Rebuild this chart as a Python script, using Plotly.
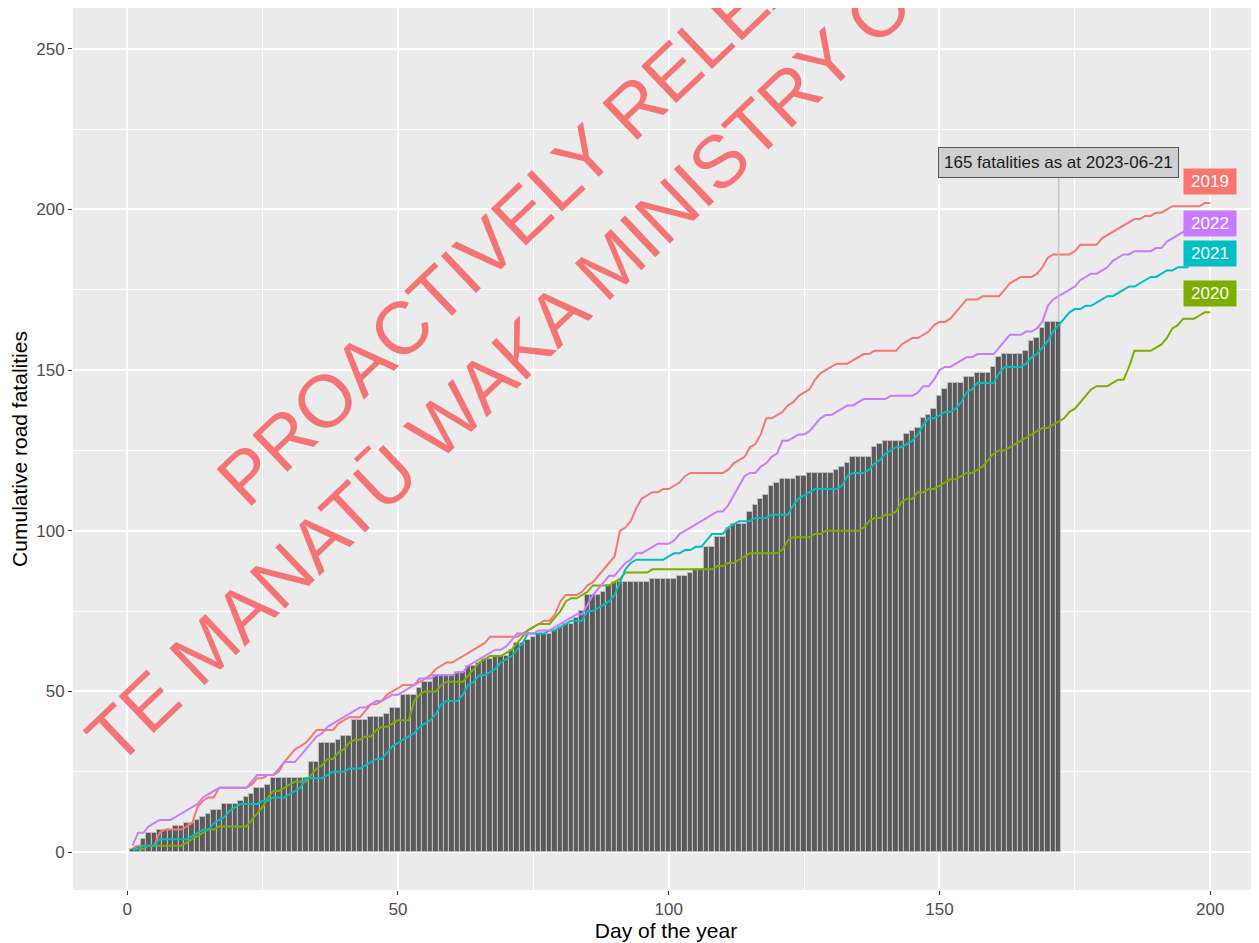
import plotly.graph_objects as go

# ---------------- data ----------------
fatal_2023 = [
    1, 2, 4, 6, 6, 7, 7, 7, 8, 8,
    9, 9, 10, 11, 12, 13, 13, 15, 15, 15,
    16, 17, 18, 20, 20, 21, 23, 23, 23, 23,
    23, 23, 23, 28, 28, 34, 34, 34, 35, 36,
    36, 41, 41, 41, 42, 42, 42, 43, 45, 45,
    49, 49, 49, 51, 53, 53, 55, 55, 55, 55,
    56, 56, 58, 58, 59, 60, 60, 61, 61, 61,
    63, 65, 65, 66, 67, 68, 68, 68, 69, 70,
    71, 71, 73, 75, 80, 80, 80, 81, 83, 84,
    84, 84, 84, 84, 84, 84, 85, 85, 85, 85,
    85, 86, 86, 87, 88, 88, 95, 95, 98, 98,
    101, 102, 102, 102, 106, 108, 110, 111, 114, 115,
    116, 116, 116, 117, 117, 118, 118, 118, 118, 118,
    119, 120, 121, 123, 123, 123, 123, 126, 127, 128,
    128, 128, 128, 130, 131, 132, 135, 136, 138, 142,
    144, 146, 146, 146, 148, 148, 149, 149, 149, 151,
    154, 155, 155, 155, 155, 156, 159, 160, 163, 165,
    165, 165,
]

fatal_2019 = [
    1, 2, 2, 2, 2, 6, 7, 7, 7, 7,
    8, 9, 14, 16, 17, 17, 20, 20, 20, 20,
    20, 20, 21, 23, 23, 24, 24, 25, 28, 30,
    32, 33, 34, 36, 38, 38, 38, 38, 40, 41,
    42, 42, 42, 44, 46, 46, 47, 49, 50, 51,
    52, 52, 52, 53, 54, 55, 57, 58, 59, 59,
    60, 61, 62, 63, 64, 65, 67, 67, 67, 67,
    67, 67, 68, 69, 70, 71, 72, 72, 74, 78,
    80, 80, 80, 81, 83, 84, 86, 88, 90, 92,
    100, 101, 103, 107, 110, 111, 112, 112, 113, 113,
    114, 115, 117, 118, 118, 118, 118, 118, 118, 118,
    119, 121, 122, 123, 126, 127, 130, 135, 135, 136,
    137, 139, 140, 142, 143, 144, 147, 149, 150, 151,
    152, 152, 152, 153, 154, 155, 155, 156, 156, 156,
    156, 156, 158, 159, 160, 160, 161, 162, 164, 165,
    165, 166, 168, 170, 172, 172, 172, 173, 173, 173,
    173, 175, 177, 178, 179, 179, 179, 180, 182, 185,
    186, 186, 186, 186, 187, 189, 189, 189, 189, 191,
    192, 193, 194, 195, 196, 197, 197, 198, 198, 199,
    199, 200, 201, 201, 201, 201, 201, 201, 202, 202,
]

fatal_2020 = [
    1, 1, 1, 2, 2, 2, 2, 2, 2, 2,
    3, 4, 5, 6, 7, 7, 8, 8, 8, 8,
    8, 8, 10, 12, 14, 17, 19, 19, 20, 21,
    22, 22, 22, 24, 26, 27, 29, 29, 31, 32,
    34, 35, 35, 36, 36, 38, 39, 39, 40, 41,
    41, 41, 47, 49, 50, 50, 50, 52, 53, 53,
    53, 53, 55, 57, 59, 60, 61, 61, 61, 62,
    63, 65, 67, 69, 70, 71, 71, 71, 73, 75,
    78, 79, 79, 80, 81, 83, 83, 83, 83, 84,
    85, 87, 87, 87, 87, 87, 88, 88, 88, 88,
    88, 88, 88, 88, 88, 88, 88, 88, 89, 89,
    90, 90, 91, 92, 93, 93, 93, 93, 93, 93,
    94, 97, 98, 98, 98, 98, 99, 99, 100, 100,
    100, 100, 100, 100, 100, 101, 103, 104, 104, 105,
    105, 106, 109, 110, 110, 112, 112, 113, 113, 114,
    115, 116, 116, 117, 118, 118, 119, 120, 122, 124,
    125, 125, 126, 127, 128, 129, 130, 131, 132, 132,
    133, 134, 135, 137, 138, 140, 142, 144, 145, 145,
    145, 146, 147, 147, 151, 156, 156, 156, 156, 157,
    158, 160, 163, 164, 166, 166, 166, 167, 168, 168,
]

fatal_2021 = [
    1, 1, 2, 2, 2, 4, 4, 4, 4, 4,
    4, 5, 6, 7, 7, 9, 10, 11, 13, 14,
    15, 15, 15, 15, 16, 16, 17, 17, 17, 18,
    19, 20, 23, 23, 23, 23, 24, 25, 25, 25,
    26, 26, 26, 27, 28, 29, 29, 31, 33, 34,
    35, 36, 37, 39, 40, 41, 43, 46, 47, 47,
    47, 49, 52, 53, 55, 55, 56, 57, 59, 60,
    61, 63, 65, 68, 68, 68, 68, 69, 69, 70,
    71, 72, 72, 72, 75, 75, 76, 77, 78, 80,
    84, 88, 90, 91, 91, 91, 91, 91, 91, 92,
    93, 93, 94, 94, 95, 95, 97, 99, 99, 99,
    101, 102, 103, 103, 103, 104, 104, 104, 105, 105,
    105, 105, 108, 110, 111, 112, 113, 113, 113, 113,
    113, 114, 117, 118, 118, 118, 119, 121, 122, 124,
    125, 126, 126, 127, 128, 130, 133, 135, 135, 136,
    137, 137, 138, 140, 143, 144, 146, 146, 146, 146,
    149, 151, 151, 151, 151, 152, 154, 155, 157, 159,
    162, 164, 166, 168, 169, 169, 170, 170, 171, 172,
    173, 173, 174, 175, 176, 176, 177, 178, 179, 179,
    180, 181, 181, 182, 182, 182,
]

fatal_2022 = [
    2, 6, 6, 8, 9, 10, 10, 10, 11, 12,
    13, 14, 15, 17, 18, 19, 20, 20, 20, 20,
    20, 20, 22, 24, 24, 24, 24, 26, 28, 28,
    28, 30, 32, 34, 36, 37, 39, 40, 41, 42,
    43, 44, 45, 45, 46, 47, 47, 48, 49, 49,
    50, 51, 52, 54, 54, 54, 55, 55, 55, 55,
    56, 56, 58, 59, 60, 61, 62, 63, 63, 64,
    66, 68, 68, 68, 68, 69, 69, 69, 70, 71,
    72, 73, 74, 74, 77, 80, 82, 84, 86, 86,
    88, 90, 91, 93, 93, 94, 95, 96, 96, 96,
    97, 99, 100, 101, 102, 103, 104, 105, 106, 106,
    108, 111, 114, 117, 118, 118, 120, 121, 123, 124,
    128, 128, 129, 130, 130, 131, 133, 135, 136, 136,
    137, 138, 139, 139, 140, 141, 141, 141, 141, 141,
    142, 142, 142, 142, 142, 143, 145, 145, 147, 150,
    151, 151, 152, 153, 154, 154, 155, 155, 155, 155,
    157, 159, 161, 161, 161, 162, 162, 163, 165, 170,
    172, 173, 174, 175, 176, 178, 179, 180, 180, 181,
    182, 184, 185, 186, 186, 187, 187, 187, 187, 188,
    188, 190, 191, 192, 193, 195, 196,
]

series_names = ["2019", "2020", "2021", "2022"]
series_values = [fatal_2019, fatal_2020, fatal_2021, fatal_2022]
series_colors = ["#F8766D", "#7CAE00", "#00BFC4", "#C77CFF"]
label_day = [200, 200, 200, 200]
label_value = [208.6, 174.0, 186.3, 195.6]

current_date = "2023-06-21"
callout_value = 214.5

watermark_lines = ["PROACTIVELY RELEASED BY", "TE MANATŪ WAKA MINISTRY OF TRANSPORT"]

x_ticks = [0, 50, 100, 150, 200]
y_ticks = [0, 50, 100, 150, 200, 250]

FONT = "Liberation Sans, Arial, sans-serif"

# ---------------- figure ----------------
fig = go.Figure()

days_2023 = list(range(1, len(fatal_2023) + 1))
fig.add_trace(go.Bar(
    x=days_2023, y=fatal_2023,
    marker=dict(color="#5A5A5A", line=dict(color="#BDBDBD", width=1.1)),
    showlegend=False, hoverinfo="skip",
))

for name, vals, col in zip(series_names, series_values, series_colors):
    fig.add_trace(go.Scatter(
        x=list(range(1, len(vals) + 1)), y=vals, mode="lines",
        line=dict(color=col, width=2), name=name, showlegend=False,
    ))

# callout line + label
last_day = days_2023[-1]
fig.add_shape(type="line", x0=last_day, x1=last_day, y0=fatal_2023[-1], y1=callout_value,
              line=dict(color="#C4C4C4", width=1.5), layer="above")
fig.add_annotation(
    x=last_day, y=callout_value, text=f"{fatal_2023[-1]} fatalities as at {current_date}",
    showarrow=False, xanchor="center", yanchor="middle",
    font=dict(family=FONT, size=17, color="#1a1a1a"),
    bgcolor="#CFCFCF", bordercolor="#555555", borderwidth=1, borderpad=5,
)

# year labels
for name, col, lx, ly in zip(series_names, series_colors, label_day, label_value):
    fig.add_annotation(
        x=lx, y=ly, text=name, showarrow=False, xanchor="center", yanchor="middle",
        font=dict(family=FONT, size=17, color="white"),
        bgcolor=col, borderpad=3, width=46,
    )

# watermark
wm_pos = [(0.452, 0.860), (0.518, 0.792)]
for txt, (px, py) in zip(watermark_lines, wm_pos):
    fig.add_annotation(
        x=px, y=py, xref="paper", yref="paper", text=txt, showarrow=False,
        textangle=-43.5, xanchor="center", yanchor="middle",
        font=dict(family=FONT, size=74, color="#F47474"),
    )

axis_common = dict(
    showgrid=True, gridcolor="white", gridwidth=1.5, zeroline=False,
    ticks="outside", ticklen=4, tickwidth=1.2, tickcolor="#333333",
    tickfont=dict(family=FONT, size=17, color="#4D4D4D"),
    showline=False, automargin=False,
)

# the page body adds an 8px offset, so the figure is sized to fit the window
fig.update_layout(
    width=1251, height=935,
    margin=dict(l=65, r=0, t=0, b=53),
    paper_bgcolor="white", plot_bgcolor="#EBEBEB",
    bargap=0, showlegend=False,
    font=dict(family=FONT),
    xaxis=dict(
        range=[-10, 209], tickvals=x_ticks,
        title=dict(text="Day of the year", font=dict(family=FONT, size=21, color="black"), standoff=4),
        minor=dict(dtick=25, tick0=0, showgrid=True, gridcolor="white", gridwidth=0.8),
        **axis_common,
    ),
    yaxis=dict(
        range=[-11.8, 262.7], tickvals=y_ticks,
        title=dict(text="Cumulative road fatalities", font=dict(family=FONT, size=21, color="black"), standoff=8),
        minor=dict(dtick=25, tick0=0, showgrid=True, gridcolor="white", gridwidth=0.8),
        **axis_common,
    ),
)

fig.write_html("out.html")
